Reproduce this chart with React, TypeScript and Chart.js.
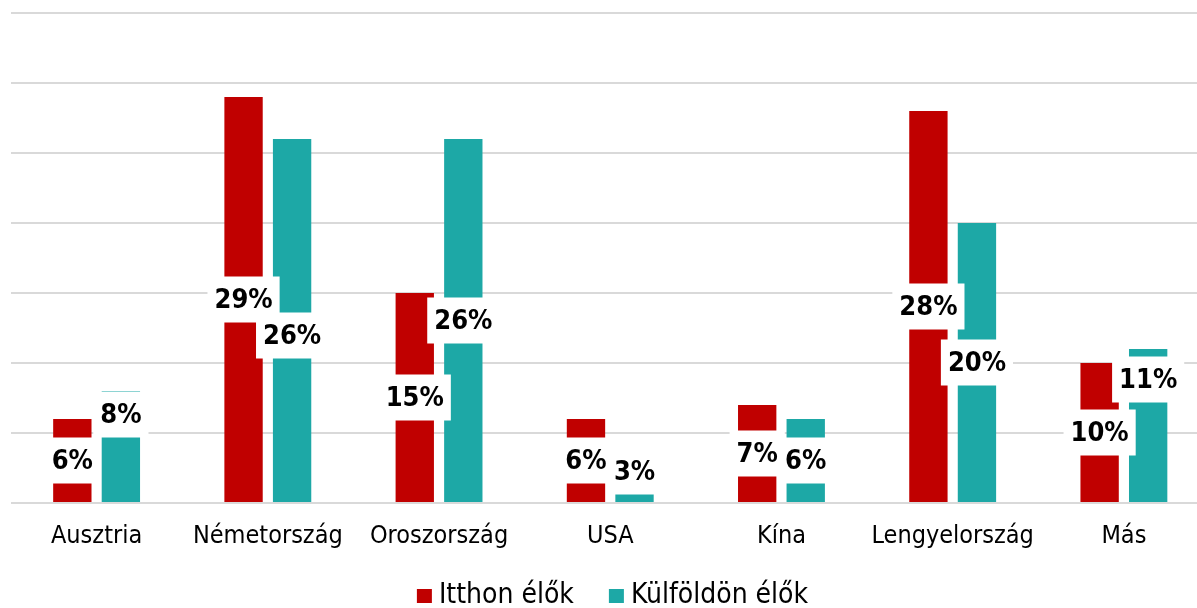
import React, { useEffect, useRef } from "react";
import { Chart, registerables } from "chart.js";

Chart.register(...registerables);

const categories = ["Ausztria", "Németország", "Oroszország", "USA", "Kína", "Lengyelország", "Más"];
const seriesNames = ["Itthon élők", "Külföldön élők"];
const itthon = [6, 29, 15, 6, 7, 28, 10];
const kulfoldon = [8, 26, 26, 3, 6, 20, 11];
const yMin = 0;
const yMax = 35;
const yStep = 5;

const seriesColors = ["#C00000", "#1DA8A6"];
// pixel nudges of the data-label boxes (styling only)
const labelNudges = [
  [0, 0, 0, 0, 0, 0, 0],
  [-32, 15, 0, -10, 0, 0, -46],
];

const FONT = "'DejaVu Sans Condensed', 'DejaVu Sans', sans-serif";

const labelPlugin = {
  id: "boxLabels",
  afterDatasetsDraw(chart: any) {
    const ctx = chart.ctx;
    ctx.save();
    ctx.font = `bold 27px ${FONT}`;
    ctx.textAlign = "center";
    ctx.textBaseline = "middle";
    chart.data.datasets.forEach((ds: any, di: number) => {
      const meta = chart.getDatasetMeta(di);
      meta.data.forEach((bar: any, i: number) => {
        const v = ds.data[i];
        const text = `${v}%`;
        const tw = ctx.measureText(text).width;
        const cx = bar.x;
        const cy = (bar.y + bar.base) / 2 + labelNudges[di][i];
        const bw = tw + 14;
        const bh = 46;
        ctx.fillStyle = "#ffffff";
        ctx.fillRect(cx - bw / 2, cy - bh / 2, bw, bh);
        ctx.fillStyle = "#000000";
        ctx.fillText(text, cx, cy + 1);
      });
    });
    ctx.restore();
  },
};

const legendPlugin = {
  id: "customLegend",
  afterDraw(chart: any) {
    const ctx = chart.ctx;
    ctx.save();
    ctx.font = `28px ${FONT}`;
    ctx.textBaseline = "middle";
    ctx.textAlign = "left";
    const box = 15;
    const gap = 7;
    const spacing = 35;
    const widths = seriesNames.map((n) => ctx.measureText(n).width);
    const total = widths.reduce((a, w) => a + box + gap + w, 0) + spacing * (seriesNames.length - 1);
    let x = chart.width / 2 - total / 2;
    const cy = 596;
    seriesNames.forEach((n, i) => {
      ctx.fillStyle = seriesColors[i];
      ctx.fillRect(x, cy - 7, box, 14);
      x += box + gap;
      ctx.fillStyle = "#000000";
      ctx.fillText(n, x, cy);
      x += widths[i] + spacing;
    });
    ctx.restore();
  },
};

export default function App() {
  const ref = useRef<HTMLCanvasElement>(null);
  useEffect(() => {
    if (!ref.current) return;
    const chart = new Chart(ref.current, {
      type: "bar",
      data: {
        labels: categories,
        datasets: [
          { label: seriesNames[0], data: itthon, backgroundColor: seriesColors[0] },
          { label: seriesNames[1], data: kulfoldon, backgroundColor: seriesColors[1] },
        ],
      },
      options: {
        responsive: false,
        animation: false,
        devicePixelRatio: 1,
        datasets: {
          bar: { categoryPercentage: 0.567, barPercentage: 0.79 },
        },
        layout: { padding: { left: 11, right: 15.5, top: 13, bottom: 47 } },
        plugins: {
          legend: { display: false },
          tooltip: { enabled: false },
          title: { display: false },
        },
        scales: {
          x: {
            grid: { display: false },
            border: { display: false },
            ticks: {
              color: "#000000",
              padding: 10,
              maxRotation: 0,
              autoSkip: false,
              font: { family: FONT, size: 25 },
            },
          },
          y: {
            min: yMin,
            max: yMax,
            ticks: { display: false, stepSize: yStep },
            grid: { color: "#d9d9d9", lineWidth: 2, drawTicks: false },
            border: { display: false },
            afterFit: (s: any) => {
              s.width = 0;
            },
          },
        },
      },
      plugins: [labelPlugin, legendPlugin],
    });
    return () => chart.destroy();
  }, []);
  return (
    <div style={{ position: "fixed", left: 0, top: 0, width: 1197, height: 608, overflow: "hidden", background: "#fff" }}>
      <canvas ref={ref} width={1225} height={608} style={{ display: "block", width: 1225, height: 608 }} />
    </div>
  );
}
